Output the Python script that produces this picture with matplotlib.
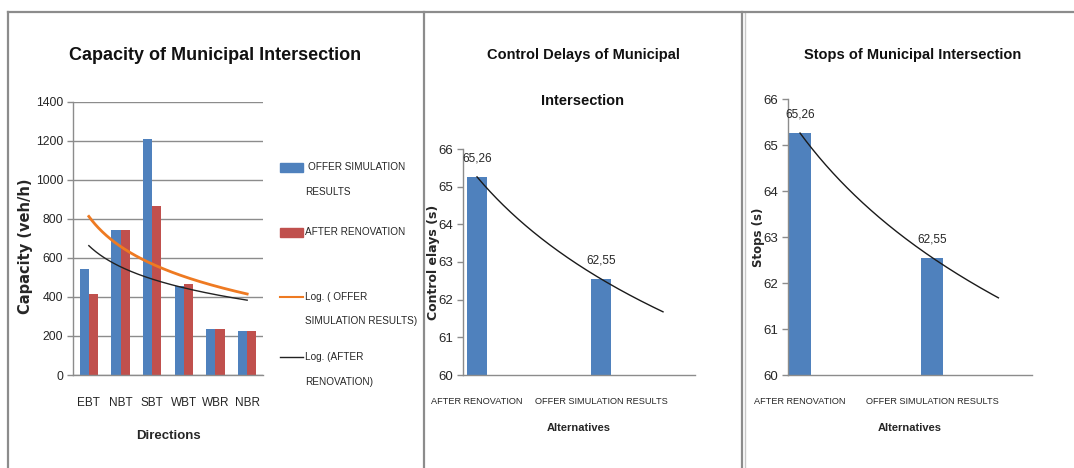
import numpy as np
import matplotlib
matplotlib.use("Agg")
import matplotlib.pyplot as plt
from matplotlib.lines import Line2D
from matplotlib.patches import Rectangle

# capacity per direction (veh/h)
directions = ["EBT", "NBT", "SBT", "WBT", "WBR", "NBR"]
cap_offer = [545, 745, 1210, 455, 235, 225]
cap_after = [415, 745, 865, 465, 235, 225]

# two alternatives for delays and stops
alternatives = ["AFTER RENOVATION", "OFFER SIMULATION RESULTS"]
delays = [65.26, 62.55]
stops = [65.26, 62.55]

BLUE = "#4F81BD"
RED = "#C0504D"
ORANGE = "#EE7A22"
GRID = "#8C8C8C"
TXT = "#262626"
FONT = "Liberation Sans"

W, H = 1074, 468
fig = plt.figure(figsize=(W / 100, H / 100), dpi=100)


def box(l, t, r, b):
    return [l / W, 1 - b / H, (r - l) / W, (b - t) / H]


def fx(x):
    return x / W


def fy(y):
    return 1 - y / H


def log_trend(x, y, x_end, n=200):
    slope, icpt = np.polyfit(np.log(x), y, 1)
    xs = np.linspace(x[0], x_end, n)
    return xs, slope * np.log(xs) + icpt


def style_axes(ax, xsize, ysize=9.5):
    for s in ["top", "right"]:
        ax.spines[s].set_visible(False)
    for s in ["left", "bottom"]:
        ax.spines[s].set_color(GRID)
        ax.spines[s].set_linewidth(1)
    ax.tick_params(axis="y", colors=GRID, labelcolor=TXT, length=4, width=1,
                   labelsize=ysize, pad=3)
    ax.tick_params(axis="x", length=0, labelcolor=TXT, labelsize=xsize, pad=16)
    for lab in ax.get_xticklabels() + ax.get_yticklabels():
        lab.set_fontfamily(FONT)


# panel frames
for x0 in [8, 424, 742]:
    fig.add_artist(Line2D([fx(x0)] * 2, [0, fy(12)], color="#8C8C8C", lw=1.6))
fig.add_artist(Line2D([fx(745)] * 2, [0, fy(12)], color="#C8C8C8", lw=1.0))
fig.add_artist(Line2D([fx(8), 1], [fy(12)] * 2, color="#8C8C8C", lw=1.6))

# ---- capacity chart
ax1 = fig.add_axes(box(73, 101.7, 263, 375))
idx = np.arange(len(directions))
bw = 0.29
ax1.bar(idx - bw / 2, cap_offer, bw, color=BLUE, zorder=2)
ax1.bar(idx + bw / 2, cap_after, bw, color=RED, zorder=2)
tx, ty = log_trend(idx + 1.0, cap_offer, len(directions))
ax1.plot(tx - 1, ty, color=ORANGE, lw=2, zorder=3)
tx, ty = log_trend(idx + 1.0, cap_after, len(directions))
ax1.plot(tx - 1, ty, color="#222222", lw=1, zorder=3)
ax1.set_xlim(-0.5, len(directions) - 0.5)
ax1.set_ylim(0, 1400)
ax1.set_yticks(range(0, 1401, 200))
ax1.set_xticks(idx)
ax1.set_xticklabels(directions)
ax1.yaxis.grid(True, color=GRID, lw=1, zorder=0)
style_axes(ax1, 8.5, ysize=8.8)
ax1.set_ylabel("Capacity (veh/h)", fontweight="bold", fontsize=10.5, color=TXT,
               family="DejaVu Sans")
ax1.yaxis.set_label_coords(-0.21, 0.47)
ax1.set_xlabel("Directions", fontweight="bold", fontsize=9.5, family=FONT, color=TXT)
ax1.xaxis.set_label_coords(0.5, -0.2)
fig.text(fx(215), fy(55), "Capacity of Municipal Intersection", ha="center",
         va="center", fontsize=13, fontweight="bold", family=FONT, color="#111111")

# legend, drawn entry by entry
leg_kw = dict(fontsize=7.2, family=FONT, color=TXT, va="center", ha="left")
fig.add_artist(Rectangle((fx(280), fy(172)), fx(23), 9 / H, color=BLUE,
                         transform=fig.transFigure))
fig.text(fx(308), fy(167), "OFFER SIMULATION", **leg_kw)
fig.text(fx(305), fy(192), "RESULTS", **leg_kw)
fig.add_artist(Rectangle((fx(280), fy(237)), fx(23), 9 / H, color=RED,
                         transform=fig.transFigure))
fig.text(fx(305), fy(232), "AFTER RENOVATION", **leg_kw)
fig.add_artist(Line2D([fx(280), fx(303)], [fy(297)] * 2, color=ORANGE, lw=1.5))
fig.text(fx(305), fy(297), "Log. ( OFFER", **leg_kw)
fig.text(fx(305), fy(321), "SIMULATION RESULTS)", **leg_kw)
fig.add_artist(Line2D([fx(280), fx(303)], [fy(357)] * 2, color="#222222", lw=1))
fig.text(fx(305), fy(357), "Log. (AFTER", **leg_kw)
fig.text(fx(305), fy(382), "RENOVATION)", **leg_kw)


def alt_chart(rect, values, xlim, bw, ylabel, label_xy, label_size,
              title_lines, title_x):
    ax = fig.add_axes(box(*rect))
    xs = np.arange(1, len(values) + 1)
    ax.bar(xs, values, bw, color=BLUE, zorder=2)
    tx, ty = log_trend(xs.astype(float), values, 2.5)
    ax.plot(tx, ty, color="#1A1A1A", lw=1, zorder=3)
    for x, v in zip(xs, values):
        ax.annotate(f"{v:.2f}".replace(".", ","), (x, v), xytext=(0, 9),
                    textcoords="offset points", ha="center", va="bottom",
                    fontsize=8.5, family=FONT, color=TXT)
    ax.set_xlim(*xlim)
    ax.set_ylim(60, 66)
    ax.set_yticks(range(60, 67))
    ax.set_xticks(xs)
    ax.set_xticklabels(alternatives)
    style_axes(ax, 6.6)
    ax.set_ylabel(ylabel, fontweight="bold", fontsize=label_size, color=TXT,
                  family="DejaVu Sans")
    ax.yaxis.set_label_coords(*label_xy)
    ax.set_xlabel("Alternatives", fontweight="bold", fontsize=8, family=FONT,
                  color=TXT)
    ax.xaxis.set_label_coords(0.5, -48 / (rect[3] - rect[1]))
    for i, line in enumerate(title_lines):
        fig.text(fx(title_x), fy(55 + 46 * i), line, ha="center", va="center",
                 fontsize=10.5, fontweight="bold", family=FONT, color="#111111")
    return ax


alt_chart((463, 149, 695, 375), delays, (0.887, 2.758), 0.16, "Control elays (s)",
          (-0.099, 0.5), 9, ["Control Delays of Municipal", "Intersection"], 583)
alt_chart((788, 99, 1032, 375), stops, (0.909, 2.754), 0.167, "Stops (s)",
          (-0.094, 0.5), 8.5, ["Stops of Municipal Intersection"], 913)

fig.savefig("out.png", dpi=100)
